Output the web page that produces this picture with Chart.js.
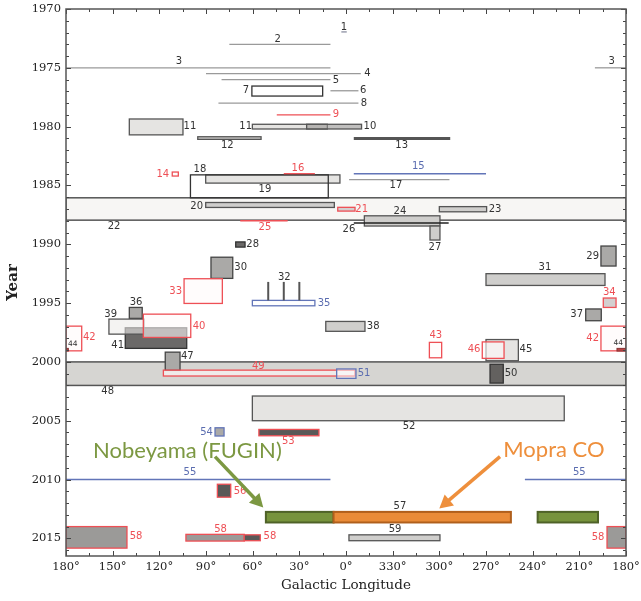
<!DOCTYPE html>
<html>
<head>
<meta charset="utf-8">
<script src="https://cdn.jsdelivr.net/npm/chart.js@4.4.0/dist/chart.umd.min.js"></script>
<style>
  html, body { margin: 0; padding: 0; background: #fff; }
  #wrap { width: 641px; height: 601px; }
</style>
</head>
<body>
<div id="wrap"><canvas id="chart" width="641" height="601"></canvas></div>
<script>
// Galactic longitude (x) vs year (y) of CO surveys

// line surveys: [id, lStart, lEnd, year, kind]
const lineSurveys = [
    ['1', 3, -0.5, 1971.95, 'slate'],
    ['2', 75, 10, 1973.0, 'gray'],
    ['3', 180, 10, 1975.0, 'gray'],
    ['3', -160, -180, 1975.0, 'gray'],
    ['4', 90, -9.5, 1975.5, 'gray'],
    ['5', 80, 10, 1976.0, 'gray'],
    ['6', 10, -8, 1976.95, 'gray'],
    ['8', 82, -8, 1978.0, 'gray'],
    ['9', 44.5, 10, 1979.0, 'red'],
    ['13', -5, -67, 1981.0, 'thick'],
    ['15', -5, -90, 1984.0, 'blue'],
    ['16', 40, 20, 1984.0, 'red'],
    ['17', -2, -66.5, 1984.5, 'gray'],
    ['25', 68, 37.5, 1988.0, 'red'],
    ['26', -5, -66, 1988.2, 'black'],
    ['55', 180, 10, 2010.0, 'blue'],
    ['55', -115, -180, 2010.0, 'blue']
];

// vertical strips (survey 32): [l, yearFrom, yearTo]
const stemSurveys = [
    [50, 1993.2, 1994.77],
    [40, 1993.2, 1994.77],
    [30, 1993.2, 1994.77]
];

// area surveys: [id, lStart, lEnd, yearFrom, yearTo, kind]
const boxSurveys = [
    ['22', 180, -180, 1986.05, 1987.95, 'band'],
    ['48', 180, -180, 2000.0, 2002.0, 'band2'],
    ['7', 60.5, 15, 1976.55, 1977.4, 'open'],
    ['11', 139.3, 104.8, 1979.35, 1980.7, 'light'],
    ['11', 60.2, 12, 1979.8, 1980.2, 'light'],
    ['10', 25.3, -10, 1979.8, 1980.2, 'midA'],
    ['12', 95.3, 54.6, 1980.86, 1981.08, 'mid'],
    ['14', 111.7, 107.8, 1983.86, 1984.2, 'red'],
    ['18', 90.2, 3.9, 1984.1, 1984.8, 'light'],
    ['19', 100, 11.4, 1984.1, 1986.05, 'open'],
    ['20', 90.2, 7.5, 1986.45, 1986.87, 'mid'],
    ['21', 5.3, -5.8, 1986.86, 1987.18, 'redMid'],
    ['23', -60, -90.4, 1986.8, 1987.24, 'mid'],
    ['24', -11.8, -60.4, 1987.58, 1988.45, 'mid'],
    ['27', -54, -60.4, 1988.45, 1989.64, 'mid'],
    ['28', 70.9, 64.9, 1989.8, 1990.24, 'dark'],
    ['29', -163.9, -173.6, 1990.15, 1991.85, 'gray'],
    ['30', 86.8, 72.8, 1991.1, 1992.9, 'gray'],
    ['31', -90, -166.5, 1992.5, 1993.5, 'mid'],
    ['33', 104.1, 79.5, 1992.93, 1995.03, 'red'],
    ['35', 60.2, 20, 1994.77, 1995.23, 'blue'],
    ['34', -165.4, -173.6, 1994.57, 1995.37, 'redMid'],
    ['36', 139.3, 131, 1995.37, 1996.3, 'gray'],
    ['37', -154.1, -164.1, 1995.5, 1996.5, 'gray'],
    ['38', 13, -12.2, 1996.56, 1997.4, 'mid'],
    ['41', 141.9, 102.4, 1997.1, 1998.85, 'dark'],
    ['39', 152.4, 129.9, 1996.36, 1997.64, 'lightA'],
    ['40', 130.3, 99.8, 1995.94, 1997.92, 'red'],
    ['42', 180, 169.9, 1996.96, 1999.06, 'red'],
    ['42', -163.9, -180, 1996.96, 1999.06, 'red'],
    ['44', 180, 178.5, 1998.85, 1999.08, 'brick'],
    ['44', -174.2, -180, 1998.85, 1999.08, 'brick'],
    ['43', -53.6, -61.5, 1998.34, 1999.65, 'red'],
    ['45', -90, -110.8, 1998.1, 1999.9, 'light'],
    ['46', -87.6, -101.6, 1998.3, 1999.7, 'red'],
    ['47', 116.2, 106.7, 1999.17, 2000.72, 'gray'],
    ['49', 117.4, -5.8, 2000.7, 2001.2, 'red'],
    ['51', 6, -6.4, 2000.6, 2001.4, 'blue'],
    ['50', -92.6, -101.1, 2000.2, 2001.8, 'dark'],
    ['52', 60.2, -140.3, 2002.9, 2005.0, 'light'],
    ['53', 56, 17.4, 2005.74, 2006.28, 'redDark'],
    ['54', 84.2, 78.4, 2005.6, 2006.3, 'blueGray'],
    ['56', 82.7, 74.1, 2010.4, 2011.5, 'redDark'],
    ['57', 51.5, 8, 2012.75, 2013.65, 'green'],
    ['57', 8, -106, 2012.75, 2013.65, 'orange'],
    ['57', -123.2, -162, 2012.75, 2013.65, 'green'],
    ['58', 180, 140.8, 2014.0, 2015.83, 'redGray'],
    ['58', -167.8, -180, 2014.0, 2015.83, 'redGray'],
    ['58', 102.9, 65.4, 2014.66, 2015.23, 'redGray'],
    ['58', 65.4, 55.1, 2014.7, 2015.2, 'redDark'],
    ['59', -1.9, -60.4, 2014.7, 2015.2, 'mid']
];

// survey numbers: [text, l, year, colour]
const surveyLabels = [
    ['1', 1.3, 1971.6, 'k'], ['2', 43.9, 1972.55, 'k'],
    ['3', 107.4, 1974.45, 'k'], ['3', -170.8, 1974.45, 'k'],
    ['4', -13.7, 1975.5, 'k'], ['5', 6.4, 1976.04, 'k'],
    ['6', -11.1, 1976.95, 'k'], ['7', 64.3, 1976.95, 'k'],
    ['8', -11.6, 1978.0, 'k'], ['9', 6.4, 1978.95, 'r'],
    ['10', -15.4, 1980.0, 'k'], ['11', 64.5, 1980.0, 'k'],
    ['11', 100.3, 1980.0, 'k'], ['12', 76.3, 1981.56, 'k'],
    ['13', -35.8, 1981.56, 'k'], ['14', 117.8, 1984.03, 'r'],
    ['15', -46.5, 1983.4, 'b'], ['16', 30.9, 1983.55, 'r'],
    ['17', -32.1, 1985.02, 'k'], ['18', 93.9, 1983.63, 'k'],
    ['19', 52.1, 1985.3, 'k'], ['20', 96, 1986.75, 'k'],
    ['21', -10.1, 1987.0, 'r'], ['22', 149.1, 1988.45, 'k'],
    ['23', -95.8, 1987.0, 'k'], ['24', -34.7, 1987.18, 'k'],
    ['25', 52.1, 1988.57, 'r'], ['26', -1.9, 1988.73, 'k'],
    ['27', -57.2, 1990.26, 'k'], ['28', 60, 1990.0, 'k'],
    ['29', -158.6, 1991.0, 'k'], ['30', 67.7, 1991.96, 'k'],
    ['31', -127.9, 1992.0, 'k'], ['32', 39.7, 1992.85, 'k'],
    ['33', 109.5, 1994.04, 'r'], ['34', -169.3, 1994.12, 'r'],
    ['35', 14.1, 1995.03, 'b'], ['36', 135, 1994.97, 'k'],
    ['37', -148.3, 1995.96, 'k'], ['38', -17.5, 1996.96, 'k'],
    ['39', 151.3, 1995.94, 'k'], ['40', 94.5, 1996.96, 'r'],
    ['41', 146.8, 1998.57, 'k'], ['42', 165, 1997.95, 'r'],
    ['42', -158.6, 1998.0, 'r'], ['43', -57.7, 1997.72, 'r'],
    ['44', 175.7, 1998.49, 's'], ['44', -175, 1998.43, 's'],
    ['45', -115.7, 1998.94, 'k'], ['46', -82.3, 1998.94, 'r'],
    ['47', 102, 1999.5, 'k'], ['48', 153.2, 2002.54, 'k'],
    ['49', 56.4, 2000.36, 'r'], ['50', -106.1, 2000.98, 'k'],
    ['51', -11.6, 2000.98, 'b'], ['52', -40.5, 2005.52, 'k'],
    ['53', 37.1, 2006.79, 'r'], ['54', 89.6, 2006.03, 'b'],
    ['55', 100.3, 2009.43, 'b'], ['55', -150, 2009.43, 'b'],
    ['56', 68.1, 2011.05, 'r'], ['57', -34.7, 2012.26, 'k'],
    ['58', 135, 2014.87, 'r'], ['58', 80.6, 2014.2, 'r'],
    ['58', 48.9, 2014.87, 'r'], ['58', -162, 2014.92, 'r'],
    ['59', -31.5, 2014.25, 'k']
];

// callouts
const calloutText = ['Nobeyama (FUGIN)', 'Mopra CO'];
const calloutAt = [[162.6, 2008.2], [-101.1, 2008.12]];
const arrowFrom = [[84.2, 2008.05], [-99, 2008.05]];
const arrowTo = [[53.2, 2012.37], [-60, 2012.46]];

const xRange = [-180, 180];
const yearRange = [1970, 2016.5];

// styles
const boxStyles = {
    band: { fill: '#f7f6f4', stroke: '#555', width: 1.5 },
    band2: { fill: '#d6d5d2', stroke: '#555', width: 1.5 },
    open: { fill: null, stroke: '#333', width: 1.3 },
    light: { fill: '#e5e4e2', stroke: '#555', width: 1.3 },
    lightA: { fill: 'rgba(236,235,233,0.6)', stroke: '#555', width: 1.3 },
    mid: { fill: '#cfcecc', stroke: '#555', width: 1.3 },
    midA: { fill: 'rgba(150,149,147,0.6)', stroke: '#555', width: 1.3 },
    gray: { fill: '#aaa9a7', stroke: '#444', width: 1.3 },
    dark: { fill: 'rgba(70,68,66,0.8)', stroke: '#333', width: 1.3 },
    red: { fill: 'rgba(255,250,250,0.6)', stroke: '#ee4f55', width: 1.3 },
    redMid: { fill: '#d3cfcf', stroke: '#ee4f55', width: 1.3 },
    redGray: { fill: '#9b9a98', stroke: '#ee4f55', width: 1.3 },
    redDark: { fill: '#5a5958', stroke: '#ee4f55', width: 1.3 },
    brick: { fill: '#b44', stroke: '#833', width: 1 },
    blue: { fill: 'rgba(255,255,255,0.5)', stroke: '#6275b8', width: 1.3 },
    blueGray: { fill: '#aaa9a7', stroke: '#6275b8', width: 1.3 },
    green: { fill: '#77933c', stroke: '#4f6228', width: 2 },
    orange: { fill: '#ea8b38', stroke: '#b05f1c', width: 2 }
};
const lineStyles = {
    gray: { color: '#9a9a9a', width: 1.3 },
    slate: { color: '#6a6f86', width: 1 },
    red: { color: '#ee4f55', width: 1.3 },
    blue: { color: '#6275b8', width: 1.5 },
    thick: { color: '#555', width: 3 },
    black: { color: '#222', width: 1.5 }
};
const labelColors = { k: '#333', r: '#ee4f55', b: '#5b6db0', s: '#333' };
const calloutColors = ['#7c9842', '#ee8f3c'];

function lonLabel(v) {
    const d = v < 0 ? v + 360 : v;
    return (v === -180 ? 180 : d) + '°';
}

function drawArrow(ctx, x1, y1, x2, y2, color) {
    const ang = Math.atan2(y2 - y1, x2 - x1);
    const head = 15;
    ctx.save();
    ctx.strokeStyle = color;
    ctx.fillStyle = color;
    ctx.lineWidth = 3.5;
    ctx.beginPath();
    ctx.moveTo(x1, y1);
    ctx.lineTo(x2 - Math.cos(ang) * head * 0.8, y2 - Math.sin(ang) * head * 0.8);
    ctx.stroke();
    ctx.beginPath();
    ctx.moveTo(x2, y2);
    ctx.lineTo(x2 - head * Math.cos(ang - 0.5), y2 - head * Math.sin(ang - 0.5));
    ctx.lineTo(x2 - head * Math.cos(ang + 0.5), y2 - head * Math.sin(ang + 0.5));
    ctx.closePath();
    ctx.fill();
    ctx.restore();
}

const surveyLayer = {
    id: 'surveyLayer',
    afterDraw(chart) {
        const { ctx, chartArea: area, scales: { x, y } } = chart;
        const px = l => x.getPixelForValue(l);
        const py = t => y.getPixelForValue(t);

        ctx.save();
        ctx.beginPath();
        ctx.rect(area.left, area.top, area.right - area.left, area.bottom - area.top);
        ctx.clip();

        boxSurveys.forEach(([id, l1, l2, t1, t2, kind]) => {
            const s = boxStyles[kind];
            const x1 = px(l1), x2 = px(l2), y1 = py(t1), y2 = py(t2);
            if (s.fill) {
                ctx.fillStyle = s.fill;
                ctx.fillRect(x1, y1, x2 - x1, y2 - y1);
            }
            ctx.strokeStyle = s.stroke;
            ctx.lineWidth = s.width;
            ctx.strokeRect(x1, y1, x2 - x1, y2 - y1);
        });

        lineSurveys.forEach(([id, l1, l2, t, kind]) => {
            const s = lineStyles[kind];
            ctx.strokeStyle = s.color;
            ctx.lineWidth = s.width;
            ctx.beginPath();
            ctx.moveTo(px(l1), py(t));
            ctx.lineTo(px(l2), py(t));
            ctx.stroke();
        });

        ctx.strokeStyle = '#555';
        ctx.lineWidth = 2;
        stemSurveys.forEach(([l, t1, t2]) => {
            ctx.beginPath();
            ctx.moveTo(px(l), py(t1));
            ctx.lineTo(px(l), py(t2));
            ctx.stroke();
        });
        ctx.restore();

        // survey numbers
        ctx.save();
        ctx.textAlign = 'center';
        ctx.textBaseline = 'middle';
        surveyLabels.forEach(([txt, l, t, c]) => {
            ctx.font = c === 's' ? '7.5px "DejaVu Sans"' : '10px "DejaVu Sans"';
            ctx.fillStyle = labelColors[c];
            ctx.fillText(txt, px(l), py(t));
        });
        ctx.restore();

        // callouts
        ctx.save();
        ctx.font = '22px Lato';
        ctx.textAlign = 'left';
        ctx.textBaseline = 'alphabetic';
        calloutText.forEach((txt, i) => {
            ctx.fillStyle = calloutColors[i];
            ctx.fillText(txt, px(calloutAt[i][0]), py(calloutAt[i][1]));
            drawArrow(ctx, px(arrowFrom[i][0]), py(arrowFrom[i][1]),
                px(arrowTo[i][0]), py(arrowTo[i][1]), calloutColors[i]);
        });
        ctx.restore();

        // inward ticks on all four sides
        ctx.save();
        ctx.strokeStyle = '#444';
        ctx.lineWidth = 1;
        ctx.beginPath();
        for (let v = xRange[0]; v <= xRange[1]; v += 15) {
            const len = v % 30 === 0 ? 5 : 3;
            const xx = Math.round(px(v)) + 0.5;
            ctx.moveTo(xx, area.bottom); ctx.lineTo(xx, area.bottom - len);
            ctx.moveTo(xx, area.top); ctx.lineTo(xx, area.top + len);
        }
        for (let t = 1970; t <= 2016; t++) {
            const len = t % 5 === 0 ? 5 : 3;
            const yy = Math.round(py(t)) + 0.5;
            ctx.moveTo(area.left, yy); ctx.lineTo(area.left + len, yy);
            ctx.moveTo(area.right, yy); ctx.lineTo(area.right - len, yy);
        }
        ctx.stroke();
        ctx.strokeStyle = '#555';
        ctx.lineWidth = 1.5;
        ctx.strokeRect(area.left, area.top, area.right - area.left, area.bottom - area.top);
        ctx.restore();
    }
};

new Chart(document.getElementById('chart'), {
    type: 'scatter',
    data: { datasets: [{ data: [], pointRadius: 0 }] },
    options: {
        responsive: false,
        animation: false,
        layout: { padding: { top: 9, right: 15, left: 0, bottom: 0 } },
        plugins: { legend: { display: false }, tooltip: { enabled: false } },
        scales: {
            x: {
                type: 'linear',
                min: xRange[0],
                max: xRange[1],
                reverse: true,
                grid: { display: false, drawTicks: false },
                border: { display: false },
                ticks: {
                    stepSize: 30,
                    autoSkip: false,
                    maxRotation: 0,
                    padding: 4,
                    color: '#222',
                    font: { family: '"DejaVu Serif"', size: 11.5 },
                    callback: v => lonLabel(v)
                },
                title: {
                    display: true,
                    text: 'Galactic Longitude',
                    color: '#222',
                    font: { family: '"DejaVu Serif"', size: 13.5 },
                    padding: { top: 0, bottom: 7 }
                },
                afterFit: s => {
                    s.height = 45;
                    s.paddingLeft = 0;
                    s.paddingRight = 0;
                }
            },
            y: {
                type: 'linear',
                min: yearRange[0],
                max: yearRange[1],
                reverse: true,
                grid: { display: false, drawTicks: false },
                border: { display: false },
                afterBuildTicks: s => { s.ticks = s.ticks.filter(t => t.value % 5 === 0); },
                ticks: {
                    stepSize: 5,
                    padding: 5,
                    color: '#222',
                    font: { family: '"DejaVu Serif"', size: 11.5 },
                    callback: v => String(v)
                },
                title: {
                    display: true,
                    text: 'Year',
                    color: '#222',
                    font: { family: '"DejaVu Serif"', size: 15, weight: 'bold' },
                    padding: { top: 4, bottom: 0 }
                },
                afterFit: s => {
                    s.width = 66;
                    s.paddingTop = 0;
                    s.paddingBottom = 0;
                }
            }
        }
    },
    plugins: [surveyLayer]
});
</script>
</body>
</html>
